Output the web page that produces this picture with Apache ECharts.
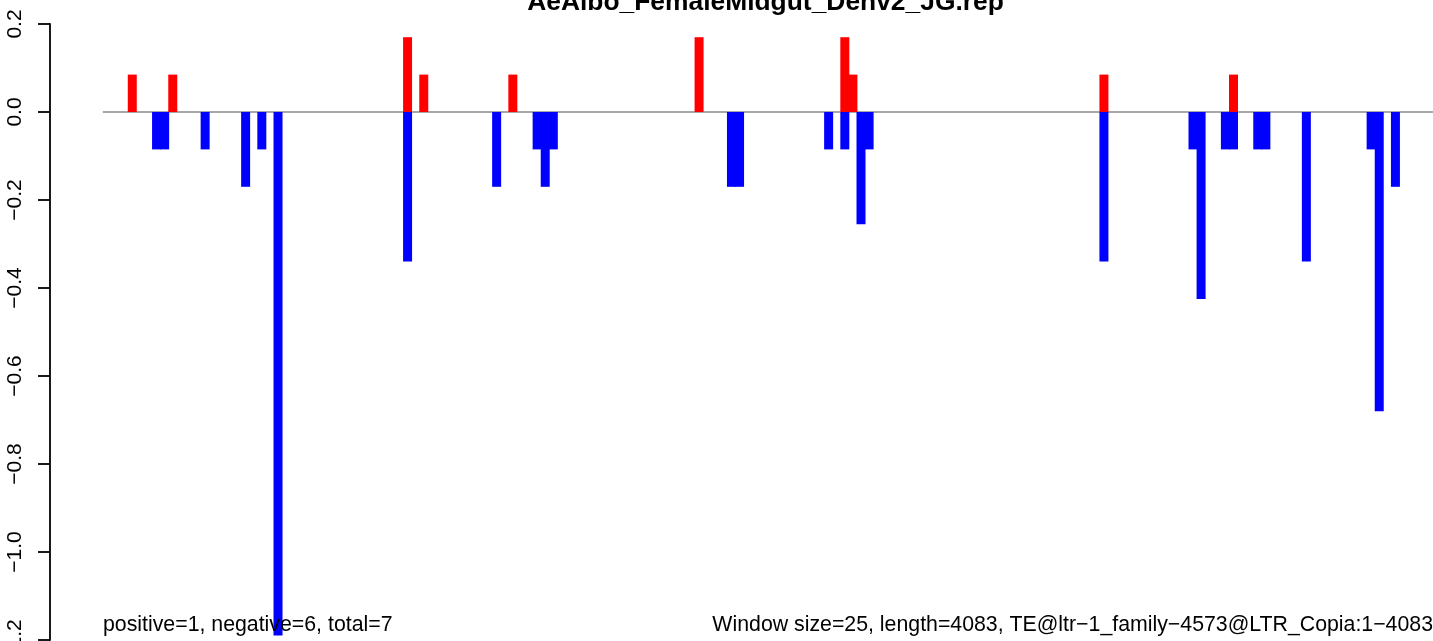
<!DOCTYPE html>
<html>
<head>
<meta charset="utf-8">
<script src="https://cdn.jsdelivr.net/npm/echarts@6/dist/echarts.min.js"></script>
<style>
html,body{margin:0;padding:0;background:#ffffff;}
#chart{width:1433px;height:641px;}
</style>
</head>
<body>
<div id="chart"></div>
<script>
// ---- data ----
const chartTitle = 'AeAlbo_FemaleMidgut_Denv2_JG.rep';
const leftNote = 'positive=1, negative=6, total=7';
const rightNote = 'Window size=25, length=4083, TE@ltr\u22121_family\u22124573@LTR_Copia:1\u22124083';
const yTickValues = [-1.2, -1.0, -0.8, -0.6, -0.4, -0.2, 0.0, 0.2];
// positive (sense) bars: position (bp) and value
const posX = [92, 217, 942, 992, 1267, 1842, 2292, 2317, 3092, 3492];
const posY = [0.085, 0.085, 0.17, 0.085, 0.085, 0.17, 0.17, 0.085, 0.085, 0.085];
// negative (antisense) bars
const negX = [167, 192, 317, 442, 492, 542, 942, 1217, 1342, 1367, 1392, 1942, 1967, 2242, 2292, 2342, 2367, 3092, 3367, 3392, 3467, 3492, 3567, 3592, 3717, 3917, 3942, 3992];
const negY = [-0.085, -0.085, -0.085, -0.17, -0.085, -1.19, -0.34, -0.17, -0.085, -0.17, -0.085, -0.17, -0.17, -0.085, -0.085, -0.255, -0.085, -0.34, -0.085, -0.425, -0.085, -0.085, -0.085, -0.085, -0.34, -0.085, -0.68, -0.17];
const zeroLineX = [1, 4108];
const xRange = [-162, 4108];

// ---- chart ----
const FONT = '"Liberation Sans", Arial, Helvetica, sans-serif';
const chart = echarts.init(document.getElementById('chart'), null, {renderer: 'canvas'});

function barRenderer(color) {
  return function (params, api) {
    const x = api.value(0), v = api.value(1);
    const p0 = api.coord([x, 0]);
    const p1 = api.coord([x, v]);
    const w = 9;
    return {
      type: 'rect',
      shape: {x: p0[0] - w / 2, y: Math.min(p0[1], p1[1]), width: w, height: Math.abs(p1[1] - p0[1])},
      style: {fill: color}
    };
  };
}

const yMin = yTickValues[0], yMax = yTickValues[yTickValues.length - 1];
const yStep = +(yTickValues[1] - yTickValues[0]).toFixed(6);

chart.setOption({
  animation: false,
  backgroundColor: '#ffffff',
  grid: {left: 50, right: 0, top: 24, bottom: 1, containLabel: false, outerBoundsMode: 'none'},
  xAxis: {type: 'value', min: xRange[0], max: xRange[1], show: false},
  yAxis: {
    type: 'value', min: yMin, max: yMax, interval: yStep,
    axisLine: {show: true, onZero: false, lineStyle: {color: '#000', width: 1.8}},
    axisTick: {show: true, length: 12, lineStyle: {color: '#000', width: 1.8}},
    splitLine: {show: false},
    axisLabel: {
      rotate: 90, margin: 24, fontSize: 21, color: '#000', fontFamily: FONT,
      showMinLabel: true, showMaxLabel: true, hideOverlap: false,
      formatter: function (v) {
        if (Math.abs(v) < 1e-9) return '0.0';
        return v.toFixed(1).replace('-', '\u2212');
      }
    }
  },
  series: [
    {
      type: 'line', silent: true, symbol: 'none', z: 1,
      data: zeroLineX.map(x => [x, 0]),
      lineStyle: {color: '#A8A8A8', width: 2}
    },
    {
      type: 'custom', z: 2, silent: true,
      data: posX.map((x, i) => [x, posY[i]]),
      renderItem: barRenderer('#FF0000')
    },
    {
      type: 'custom', z: 2, silent: true,
      data: negX.map((x, i) => [x, negY[i]]),
      renderItem: barRenderer('#0000FF')
    }
  ],
  graphic: [
    {type: 'text', x: 765.5, y: 2.9, z: 10,
     style: {text: chartTitle, fontFamily: FONT, fontWeight: 'bold', fontSize: 26.4, fill: '#000', align: 'center', verticalAlign: 'middle'}},
    {type: 'text', x: 103, y: 625.6, z: 10,
     style: {text: leftNote, fontFamily: FONT, fontSize: 21.3, fill: '#000', align: 'left', verticalAlign: 'middle'}},
    {type: 'text', x: 1433, y: 625.6, z: 10,
     style: {text: rightNote, fontFamily: FONT, fontSize: 21.3, fill: '#000', align: 'right', verticalAlign: 'middle'}}
  ]
});
</script>
</body>
</html>
